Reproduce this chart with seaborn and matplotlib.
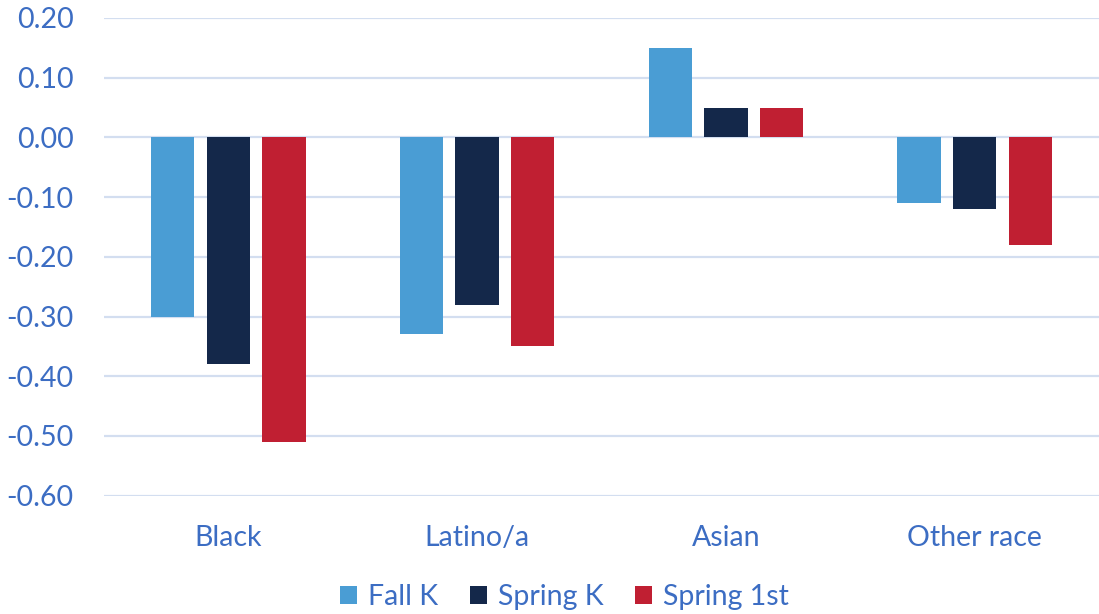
import matplotlib
matplotlib.use("Agg")
import matplotlib.pyplot as plt
import seaborn as sns
import pandas as pd

categories = ["Black", "Latino/a", "Asian", "Other race"]
series_names = ["Fall K", "Spring K", "Spring 1st"]
fall_k = [-0.30, -0.33, 0.15, -0.11]
spring_k = [-0.38, -0.28, 0.05, -0.12]
spring_1st = [-0.51, -0.35, 0.05, -0.18]
yticks = [-0.60, -0.50, -0.40, -0.30, -0.20, -0.10, 0.00, 0.10, 0.20]

colors = ["#4A9DD4", "#14284A", "#C01F32"]
text_color = "#3C6DC3"
grid_color = "#D3DEF0"

rows = []
for name, vals in zip(series_names, [fall_k, spring_k, spring_1st]):
    for c, v in zip(categories, vals):
        rows.append({"category": c, "series": name, "value": v})
df = pd.DataFrame(rows)

sns.set_theme(style="white")
plt.rcParams['font.family'] = ['Lato', 'DejaVu Sans']

fig = plt.figure(figsize=(10.99, 6.14), dpi=100)
ax = fig.add_axes([104/1099, 1 - 495.7/614, 1 - 104/1099, (495.7 - 18)/614])

sns.barplot(data=df, x="category", y="value", hue="series", order=categories,
            hue_order=series_names, palette=colors, saturation=1, width=0.67,
            gap=0.22, linewidth=0, errorbar=None, ax=ax)

ax.set_ylim(-0.60, 0.20)
ax.set_yticks(yticks)
ax.set_yticklabels([f"{t:.2f}" for t in yticks])
ax.set_xlim(-0.5, 3.5)
ax.yaxis.grid(True, color=grid_color, linewidth=1.6)
ax.set_axisbelow(True)
for s in ax.spines.values():
    s.set_visible(False)
ax.set_xlabel("")
ax.set_ylabel("")
ax.tick_params(axis='y', length=0, pad=22, labelsize=20.5, labelcolor=text_color)
ax.tick_params(axis='x', length=0, pad=21, labelsize=20.5, labelcolor=text_color)

handles, labels = ax.get_legend_handles_labels()
ax.legend(handles, labels, loc='center', bbox_to_anchor=(0.5 - 37/995, -101/477.7),
          ncol=3, frameon=False, fontsize=20.5, labelcolor=text_color,
          handlelength=0.6, handleheight=0.6, handletextpad=0.4, columnspacing=1.1)

fig.savefig("out.png", dpi=100)
